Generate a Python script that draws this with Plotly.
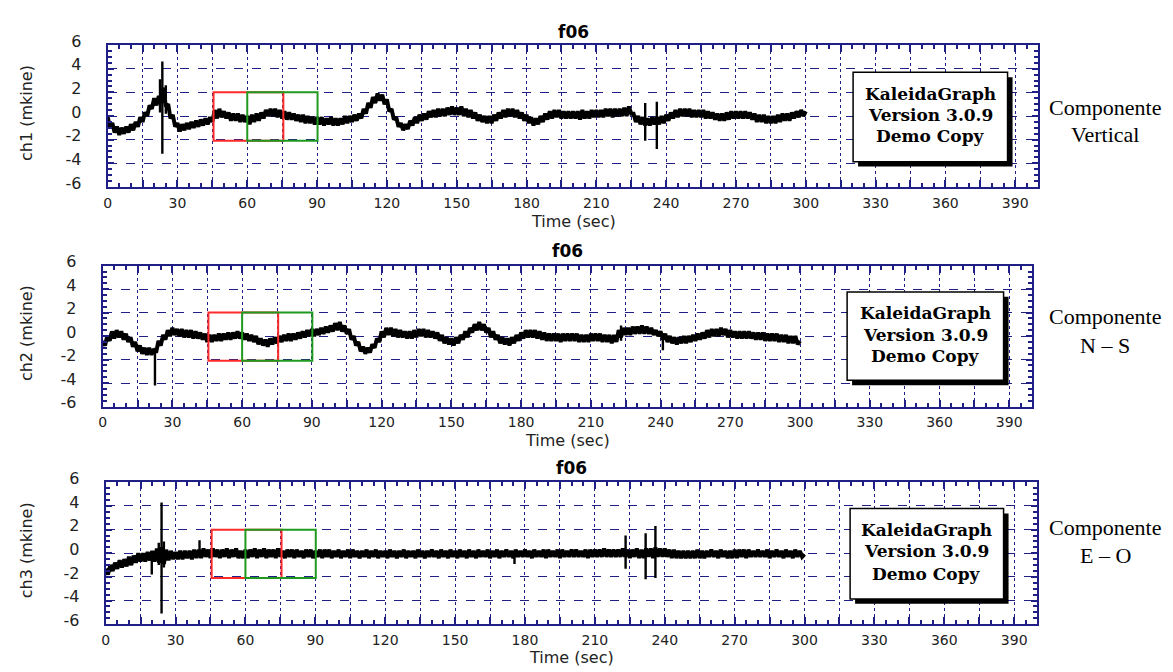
import plotly.graph_objects as go

W, H = 1173, 672

# ---------------- data (1 sample per second) ----------------
time_s = list(range(0, 301))

ch1 = [
    -0.1, -0.9, -0.6, -1.4, -0.9, -1.6, -1.0, -1.5, -0.9, -1.4,
    -0.7, -1.2, -0.5, -0.9, -0.1, -0.5, 0.3, 0.0, 0.9, 0.6,
    1.5, 0.9, 1.7, 1.1, 2.4, 0.8, 1.0, -0.2, 0.1, -0.9,
    -0.6, -1.3, -0.7, -1.2, -0.6, -1.1, -0.5, -1.0, -0.4, -0.9,
    -0.3, -0.8, -0.2, -0.7, -0.1, -0.5, 0.5, -0.2, 0.6, -0.1,
    0.4, -0.2, 0.3, -0.4, 0.2, -0.4, 0.2, -0.5, 0.1, -0.5,
    0.0, -0.7, 0.1, -0.5, 0.2, -0.4, 0.3, -0.2, 0.5, 0.0,
    0.6, 0.0, 0.6, -0.1, 0.5, -0.2, 0.4, -0.3, 0.3, -0.3,
    0.2, -0.4, 0.1, -0.5, 0.1, -0.6, 0.0, -0.6, -0.1, -0.7,
    -0.1, -0.7, -0.1, -0.8, -0.2, -0.7, -0.1, -0.8, -0.2, -0.8,
    -0.2, -0.7, 0.0, -0.6, 0.0, -0.5, 0.1, -0.4, 0.2, -0.2,
    0.6, 0.2, 1.1, 0.7, 1.6, 1.1, 1.9, 1.3, 1.8, 1.0,
    1.4, 0.4, 0.6, -0.3, -0.1, -0.9, -0.6, -1.2, -0.7, -1.1,
    -0.4, -0.8, -0.1, -0.6, 0.1, -0.4, 0.2, -0.3, 0.4, -0.1,
    0.5, -0.1, 0.6, 0.0, 0.6, 0.0, 0.7, 0.1, 0.8, 0.1,
    0.7, 0.1, 0.8, 0.0, 0.6, -0.1, 0.5, -0.2, 0.3, -0.4,
    0.1, -0.5, 0.0, -0.6, 0.0, -0.6, 0.1, -0.4, 0.3, -0.2,
    0.5, -0.1, 0.6, 0.0, 0.6, -0.1, 0.5, -0.2, 0.3, -0.4,
    0.1, -0.6, -0.1, -0.8, -0.2, -0.7, 0.0, -0.5, 0.2, -0.3,
    0.4, -0.2, 0.5, -0.1, 0.5, -0.2, 0.4, -0.2, 0.4, -0.2,
    0.4, -0.2, 0.4, -0.3, 0.5, -0.2, 0.4, -0.2, 0.5, -0.1,
    0.5, -0.1, 0.5, -0.1, 0.6, 0.0, 0.6, -0.1, 0.6, 0.0,
    0.6, 0.0, 0.7, 0.0, 0.8, 0.2, 0.2, -0.5, 0.0, -0.7,
    -0.1, -0.8, -0.2, -0.8, -0.1, -0.7, -0.1, -0.7, 0.0, -0.6,
    0.1, -0.4, 0.3, -0.2, 0.5, -0.1, 0.6, 0.0, 0.6, 0.0,
    0.6, -0.1, 0.5, -0.1, 0.5, -0.1, 0.5, -0.2, 0.4, -0.2,
    0.3, -0.3, 0.2, -0.4, 0.2, -0.4, 0.3, -0.3, 0.4, -0.2,
    0.4, -0.2, 0.4, -0.2, 0.4, -0.2, 0.3, -0.3, 0.2, -0.5,
    0.1, -0.5, 0.1, -0.6, 0.0, -0.6, 0.0, -0.6, 0.1, -0.5,
    0.2, -0.4, 0.2, -0.4, 0.3, -0.2, 0.4, -0.1, 0.5, 0.0,
    0.4]

ch2 = [
    -0.4, -0.8, 0.0, -0.4, 0.4, -0.2, 0.5, -0.1, 0.4, -0.3,
    0.2, -0.5, -0.1, -0.9, -0.5, -1.3, -0.8, -1.5, -1.0, -1.6,
    -1.0, -1.6, -1.1, -1.4, -0.4, -0.8, 0.1, -0.3, 0.5, 0.0,
    0.7, 0.1, 0.6, 0.0, 0.6, -0.1, 0.5, -0.1, 0.5, -0.2,
    0.4, -0.2, 0.3, -0.3, 0.2, -0.5, 0.1, -0.5, 0.1, -0.4,
    0.2, -0.4, 0.2, -0.3, 0.3, -0.3, 0.3, -0.2, 0.4, -0.2,
    0.3, -0.3, 0.2, -0.4, 0.1, -0.5, 0.0, -0.7, -0.2, -0.8,
    -0.3, -0.9, -0.2, -0.7, -0.1, -0.6, 0.0, -0.5, 0.1, -0.4,
    0.2, -0.4, 0.2, -0.3, 0.3, -0.2, 0.4, -0.1, 0.5, 0.0,
    0.6, 0.0, 0.6, 0.1, 0.7, 0.2, 0.8, 0.3, 0.9, 0.4,
    1.1, 0.5, 1.2, 0.4, 0.9, 0.2, 0.6, -0.3, 0.0, -0.8,
    -0.5, -1.3, -0.9, -1.5, -1.0, -1.4, -0.7, -1.0, -0.2, -0.5,
    0.4, -0.1, 0.7, 0.1, 0.7, 0.0, 0.6, -0.1, 0.5, -0.1,
    0.4, -0.2, 0.4, -0.2, 0.5, -0.1, 0.6, 0.0, 0.6, -0.1,
    0.5, -0.1, 0.4, -0.2, 0.3, -0.4, 0.1, -0.6, -0.1, -0.7,
    -0.2, -0.8, -0.1, -0.6, 0.1, -0.3, 0.4, -0.1, 0.7, 0.3,
    1.0, 0.5, 1.2, 0.5, 1.0, 0.3, 0.7, -0.1, 0.4, -0.3,
    0.1, -0.6, -0.1, -0.7, -0.2, -0.8, -0.1, -0.6, 0.1, -0.4,
    0.3, -0.2, 0.5, -0.1, 0.5, -0.1, 0.5, -0.2, 0.4, -0.3,
    0.3, -0.4, 0.2, -0.4, 0.2, -0.4, 0.2, -0.5, 0.2, -0.4,
    0.2, -0.4, 0.2, -0.4, 0.2, -0.5, 0.1, -0.5, 0.1, -0.5,
    0.2, -0.4, 0.2, -0.4, 0.2, -0.5, 0.1, -0.5, 0.1, -0.6,
    0.1, -0.5, 0.5, -0.1, 0.7, 0.1, 0.7, 0.1, 0.8, 0.2,
    0.8, 0.2, 0.9, 0.2, 0.8, 0.2, 0.7, 0.1, 0.5, 0.0,
    0.4, -0.3, 0.2, -0.5, 0.0, -0.6, -0.1, -0.7, -0.1, -0.6,
    0.0, -0.6, 0.0, -0.5, 0.1, -0.4, 0.2, -0.3, 0.3, -0.2,
    0.5, -0.1, 0.6, 0.0, 0.6, 0.0, 0.7, 0.1, 0.6, -0.1,
    0.5, -0.1, 0.4, -0.2, 0.4, -0.2, 0.4, -0.2, 0.4, -0.2,
    0.3, -0.3, 0.3, -0.3, 0.3, -0.4, 0.2, -0.4, 0.2, -0.4,
    0.2, -0.5, 0.1, -0.5, 0.1, -0.6, 0.0, -0.6, 0.0, -0.7,
    -0.4]

ch3 = [
    -1.3, -1.8, -1.0, -1.5, -0.8, -1.3, -0.6, -1.2, -0.5, -1.1,
    -0.3, -1.0, -0.2, -0.8, 0.0, -0.7, 0.0, -0.7, 0.1, -0.6,
    0.2, -0.7, 0.4, -0.8, 0.5, -0.9, 0.3, -0.6, 0.2, -0.5,
    0.1, -0.5, 0.2, -0.5, 0.2, -0.4, 0.2, -0.5, 0.3, -0.4,
    0.3, -0.4, 0.4, -0.3, 0.3, -0.4, 0.4, -0.3, 0.3, -0.4,
    0.3, -0.3, 0.4, -0.4, 0.3, -0.3, 0.4, -0.4, 0.2, -0.4,
    0.3, -0.4, 0.3, -0.3, 0.4, -0.4, 0.3, -0.3, 0.4, -0.4,
    0.3, -0.3, 0.3, -0.4, 0.4, -0.3, 0.2, -0.4, 0.3, -0.3,
    0.3, -0.4, 0.3, -0.3, 0.2, -0.4, 0.3, -0.3, 0.3, -0.4,
    0.2, -0.3, 0.3, -0.4, 0.3, -0.3, 0.3, -0.4, 0.2, -0.3,
    0.3, -0.4, 0.2, -0.3, 0.3, -0.4, 0.3, -0.3, 0.2, -0.4,
    0.2, -0.3, 0.3, -0.4, 0.2, -0.3, 0.3, -0.4, 0.2, -0.3,
    0.2, -0.4, 0.3, -0.3, 0.2, -0.4, 0.2, -0.3, 0.3, -0.4,
    0.2, -0.3, 0.2, -0.4, 0.3, -0.3, 0.2, -0.4, 0.2, -0.3,
    0.3, -0.3, 0.2, -0.4, 0.3, -0.3, 0.2, -0.4, 0.3, -0.3,
    0.2, -0.4, 0.3, -0.3, 0.2, -0.4, 0.3, -0.3, 0.2, -0.4,
    0.3, -0.3, 0.2, -0.3, 0.3, -0.4, 0.2, -0.3, 0.3, -0.4,
    0.2, -0.3, 0.3, -0.3, 0.2, -0.4, 0.3, -0.3, 0.2, -0.3,
    0.3, -0.3, 0.2, -0.4, 0.3, -0.3, 0.2, -0.3, 0.3, -0.4,
    0.3, -0.3, 0.2, -0.3, 0.3, -0.4, 0.3, -0.3, 0.2, -0.3,
    0.3, -0.3, 0.3, -0.3, 0.2, -0.3, 0.3, -0.4, 0.3, -0.3,
    0.3, -0.3, 0.3, -0.3, 0.4, -0.3, 0.3, -0.3, 0.3, -0.3,
    0.3, -0.3, 0.4, -0.3, 0.3, -0.4, 0.3, -0.3, 0.4, -0.4,
    0.3, -0.4, 0.4, -0.3, 0.4, -0.4, 0.5, -0.3, 0.4, -0.3,
    0.4, -0.3, 0.3, -0.4, 0.3, -0.4, 0.2, -0.4, 0.2, -0.4,
    0.2, -0.4, 0.2, -0.4, 0.3, -0.4, 0.2, -0.4, 0.2, -0.3,
    0.3, -0.3, 0.2, -0.4, 0.3, -0.3, 0.2, -0.4, 0.2, -0.4,
    0.3, -0.4, 0.3, -0.3, 0.3, -0.4, 0.3, -0.3, 0.2, -0.3,
    0.3, -0.3, 0.2, -0.3, 0.3, -0.4, 0.2, -0.3, 0.3, -0.3,
    0.2, -0.4, 0.3, -0.3, 0.2, -0.4, 0.3, -0.3, 0.2, -0.3,
    -0.1]

# spikes: time, low, high
ch1_spike_t = [22.5, 23.5, 25.0, 231.0, 236.0]
ch1_spike_lo = [0.3, -3.2, 0.2, -2.1, -2.8]
ch1_spike_hi = [3.1, 4.6, 2.6, 1.1, 1.2]

ch2_spike_t = [22.5, 223.0, 241.0]
ch2_spike_lo = [-4.2, -0.4, -1.2]
ch2_spike_hi = [-1.0, 0.9, 0.2]

ch3_spike_t = [19.8, 22.8, 24.0, 25.0, 40.3, 175.5, 223.2, 231.8, 236.0]
ch3_spike_lo = [-1.8, -1.0, -5.1, -1.2, -0.3, -0.9, -1.3, -2.2, -2.1]
ch3_spike_hi = [-0.2, 0.9, 4.3, 1.0, 1.1, 0.1, 1.5, 1.7, 2.3]

red_window = [45.5, 75.5]
green_window = [60.0, 90.2]
window_y = [-2.1, 2.0]

x_tick_vals = list(range(0, 391, 15))
x_tick_text = [str(v) if v % 30 == 0 else "" for v in x_tick_vals]
y_tick_vals = [-6, -4, -2, 0, 2, 4, 6]
y_tick_text = ["-6", "-4", "-2", "0", "2", "4", "6"]

panel_names = ["ch1 (mkine)", "ch2 (mkine)", "ch3 (mkine)"]
panel_titles = ["f06", "f06", "f06"]
comp_line1 = ["Componente", "Componente", "Componente"]
comp_line2 = ["Vertical", "N \u2013 S", "E \u2013 O"]
demo_lines = ["KaleidaGraph", "Version 3.0.9", "Demo Copy"]

series = [ch1, ch2, ch3]
for s in series:
    assert len(s) == len(time_s), len(s)
spikes = [(ch1_spike_t, ch1_spike_lo, ch1_spike_hi),
          (ch2_spike_t, ch2_spike_lo, ch2_spike_hi),
          (ch3_spike_t, ch3_spike_lo, ch3_spike_hi)]

# ---------------- layout geometry (pixels) ----------------
panels = [
    dict(x0=104, x1=1038, y0=33, y1=179, title_y=20, time_y=215,
         box=(852, 61, 1007, 153), box_lines=(83, 105, 127), comp=(97, 125)),
    dict(x0=99, x1=1032, y0=260, y1=405, title_y=245, time_y=440,
         box=(846, 287, 1003, 378), box_lines=(309, 331, 353), comp=(312, 342)),
    dict(x0=102, x1=1037, y0=483, y1=629, title_y=468, time_y=663,
         box=(849, 510, 1003, 603), box_lines=(532, 554, 577), comp=(529, 558)),
]

NAVY = "#1f1f85"
px = lambda x: x / W
py = lambda y: 1 - y / H

fig = go.Figure()
shapes = []
annotations = []
layout = dict(width=W, height=H, margin=dict(l=0, r=0, t=0, b=0),
              paper_bgcolor="white", plot_bgcolor="white", showlegend=False)

for i, p in enumerate(panels):
    n = "" if i == 0 else str(i + 1)
    xa, ya = "x" + n, "y" + n
    layout["xaxis" + n] = dict(
        domain=[px(p["x0"]), px(p["x1"])], anchor=ya, range=[0, 400],
        tickmode="array", tickvals=x_tick_vals, ticktext=x_tick_text,
        ticks="inside", ticklen=7, tickwidth=1.5, tickcolor=NAVY,
        showline=True, linecolor=NAVY, linewidth=2, mirror="allticks",
        showgrid=True, gridcolor=NAVY, gridwidth=1.3, griddash="dot",
        zeroline=False, ticklabelstandoff=2,
        tickfont=dict(family="DejaVu Sans", size=14, color="#222"),
        minor=dict(dtick=5, tick0=0, ticks="inside", ticklen=4, tickwidth=1.5,
                   tickcolor=NAVY, showgrid=False),
        fixedrange=True)
    layout["yaxis" + n] = dict(
        domain=[py(p["y1"]), py(p["y0"])], anchor=xa, range=[-6, 6],
        tickmode="array", tickvals=y_tick_vals, ticktext=y_tick_text,
        ticks="inside", ticklen=6, tickwidth=1.5, tickcolor=NAVY,
        showline=True, linecolor=NAVY, linewidth=2, mirror="allticks",
        showgrid=True, gridcolor=NAVY, gridwidth=1.3, griddash="dash",
        zeroline=False, ticklabelstandoff=21, ticklabelshift=-4,
        tickfont=dict(family="DejaVu Sans", size=16, color="#222"),
        minor=dict(dtick=0.5, tick0=0, ticks="inside", ticklen=4, tickwidth=1.5,
                   tickcolor=NAVY, showgrid=False),
        fixedrange=True)

    # signal
    fig.add_trace(go.Scatter(x=time_s, y=series[i], mode="lines", xaxis=xa, yaxis=ya,
                             line=dict(color="black", width=4), hoverinfo="skip"))
    st, lo, hi = spikes[i]
    sx, sy = [], []
    for t, a, b in zip(st, lo, hi):
        sx += [t, t, None]
        sy += [a, b, None]
    fig.add_trace(go.Scatter(x=sx, y=sy, mode="lines", xaxis=xa, yaxis=ya,
                             line=dict(color="black", width=2.4), hoverinfo="skip"))

    # windows
    shapes.append(dict(type="rect", xref=xa, yref=ya, x0=red_window[0], x1=red_window[1],
                       y0=window_y[0], y1=window_y[1], line=dict(color="#ff2a2a", width=2)))
    shapes.append(dict(type="rect", xref=xa, yref=ya, x0=green_window[0], x1=green_window[1],
                       y0=window_y[0], y1=window_y[1], line=dict(color="#1f9a1f", width=2)))

    # demo box with shadow
    bx0, by0, bx1, by1 = p["box"]
    shapes.append(dict(type="rect", xref="paper", yref="paper",
                       x0=px(bx0 + 5), x1=px(bx1 + 5), y0=py(by1 + 5), y1=py(by0 + 5),
                       fillcolor="black", line=dict(width=0)))
    shapes.append(dict(type="rect", xref="paper", yref="paper",
                       x0=px(bx0), x1=px(bx1), y0=py(by1), y1=py(by0),
                       fillcolor="white", line=dict(color="black", width=1.5)))
    cx = (bx0 + bx1) / 2
    for txt, ly in zip(demo_lines, p["box_lines"]):
        annotations.append(dict(x=px(cx), y=py(ly), xref="paper", yref="paper",
                                text="<b>" + txt + "</b>", showarrow=False,
                                xanchor="center", yanchor="middle",
                                font=dict(family="DejaVu Serif", size=17, color="black")))

    # title / axis labels
    annotations.append(dict(x=px((p["x0"] + p["x1"]) / 2), y=py(p["title_y"]),
                            xref="paper", yref="paper", text="<b>" + panel_titles[i] + "</b>",
                            showarrow=False, xanchor="center", yanchor="middle",
                            font=dict(family="DejaVu Sans", size=17, color="black")))
    annotations.append(dict(x=px((p["x0"] + p["x1"]) / 2), y=py(p["time_y"]),
                            xref="paper", yref="paper", text="Time (sec)",
                            showarrow=False, xanchor="center", yanchor="middle",
                            font=dict(family="DejaVu Sans", size=16, color="#222")))
    annotations.append(dict(x=px(22), y=py((p["y0"] + p["y1"]) / 2 - 3),
                            xref="paper", yref="paper", text=panel_names[i], textangle=-90,
                            showarrow=False, xanchor="center", yanchor="middle",
                            font=dict(family="DejaVu Sans", size=16, color="#222")))
    annotations.append(dict(x=px(1105), y=py(p["comp"][0]), xref="paper", yref="paper",
                            text=comp_line1[i], showarrow=False, xanchor="center",
                            yanchor="middle",
                            font=dict(family="Liberation Serif", size=22, color="black")))
    annotations.append(dict(x=px(1105), y=py(p["comp"][1]), xref="paper", yref="paper",
                            text=comp_line2[i], showarrow=False, xanchor="center",
                            yanchor="middle",
                            font=dict(family="Liberation Serif", size=22, color="black")))

layout["shapes"] = shapes
layout["annotations"] = annotations
fig.update_layout(**layout)
fig.write_html("out.html")
